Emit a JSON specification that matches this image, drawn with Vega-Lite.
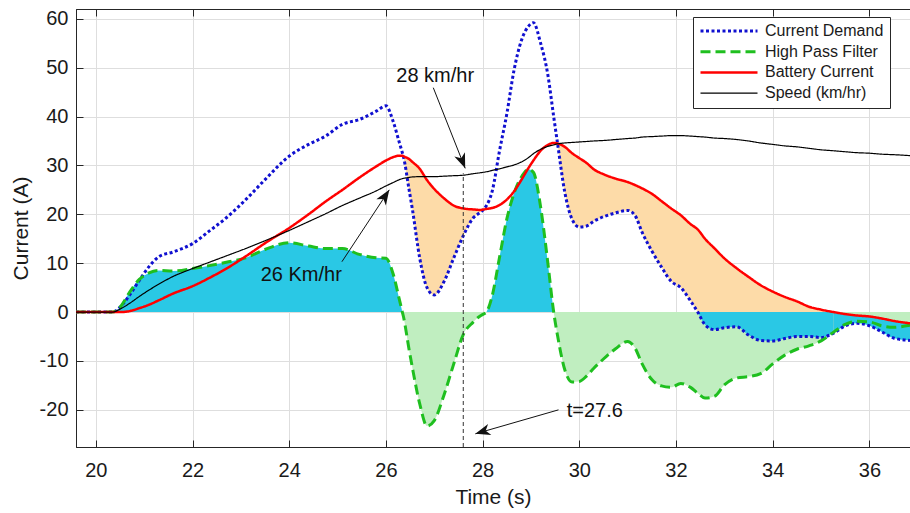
{
  "$schema": "https://vega.github.io/schema/vega-lite/v6.json",
  "width": 834,
  "height": 438,
  "autosize": {"type": "none"},
  "padding": {"left": 76, "top": 9, "right": 0, "bottom": 66},
  "background": "white",
  "config": {
    "font": "Liberation Sans",
    "view": {"stroke": "#262626", "strokeWidth": 1},
    "axis": {
      "domainColor": "#262626",
      "tickColor": "#262626",
      "labelColor": "#1a1a1a",
      "titleColor": "#1a1a1a",
      "labelFont": "Liberation Sans",
      "titleFont": "Liberation Sans",
      "titleFontWeight": "normal",
      "gridColor": "#DEDEDE"
    },
    "legend": {"labelFont": "Liberation Sans"}
  },
  "datasets": {
    "main": [
      {"t": 19.59, "demand": 0, "hpf": 0, "battery": 0, "speed": 0},
      {"t": 20.0, "demand": 0, "hpf": 0, "battery": 0, "speed": 0},
      {"t": 20.35, "demand": 0, "hpf": 0, "battery": 0, "speed": 0},
      {"t": 20.5, "demand": 1.0, "hpf": 1.0, "battery": 0, "speed": 0.6},
      {"t": 20.7, "demand": 3.5, "hpf": 4.1, "battery": 0.2, "speed": 1.8},
      {"t": 20.9, "demand": 6.5, "hpf": 6.7, "battery": 0.8, "speed": 3.2},
      {"t": 21.1, "demand": 9.3, "hpf": 8.0, "battery": 1.5, "speed": 4.5},
      {"t": 21.3, "demand": 11.3, "hpf": 8.5, "battery": 2.4, "speed": 5.7},
      {"t": 21.6, "demand": 12.3, "hpf": 8.4, "battery": 3.8, "speed": 7.3},
      {"t": 22.0, "demand": 14.0, "hpf": 8.9, "battery": 5.3, "speed": 8.9},
      {"t": 22.35, "demand": 16.6, "hpf": 9.5, "battery": 7.0, "speed": 10.2},
      {"t": 22.7, "demand": 19.3, "hpf": 10.2, "battery": 8.9, "speed": 11.5},
      {"t": 23.1, "demand": 23.0, "hpf": 11.1, "battery": 11.4, "speed": 13.0},
      {"t": 23.5, "demand": 27.1, "hpf": 12.8, "battery": 14.1, "speed": 14.6},
      {"t": 24.0, "demand": 31.9, "hpf": 14.2, "battery": 17.2, "speed": 16.7},
      {"t": 24.4, "demand": 34.3, "hpf": 13.5, "battery": 20.0, "speed": 18.5},
      {"t": 24.75, "demand": 36.0, "hpf": 13.0, "battery": 22.6, "speed": 20.1},
      {"t": 25.1, "demand": 38.4, "hpf": 13.0, "battery": 25.0, "speed": 21.8},
      {"t": 25.45, "demand": 39.4, "hpf": 11.8, "battery": 27.5, "speed": 23.3},
      {"t": 25.8, "demand": 41.1, "hpf": 11.1, "battery": 29.8, "speed": 24.8},
      {"t": 26.0, "demand": 42.2, "hpf": 11.0, "battery": 31.0, "speed": 25.8},
      {"t": 26.15, "demand": 39.0, "hpf": 7.8, "battery": 31.7, "speed": 26.5},
      {"t": 26.28, "demand": 34.6, "hpf": 2.5, "battery": 32.0, "speed": 27.1},
      {"t": 26.34, "demand": 32.6, "hpf": 0, "battery": 32.0, "speed": 27.3},
      {"t": 26.36, "demand": 31.9, "hpf": -0.8, "battery": 31.9, "speed": 27.35},
      {"t": 26.48, "demand": 25.0, "hpf": -7.7, "battery": 31.3, "speed": 27.55},
      {"t": 26.55, "demand": 20.9, "hpf": -11.5, "battery": 30.7, "speed": 27.65},
      {"t": 26.7, "demand": 11.0, "hpf": -18.8, "battery": 29.3, "speed": 27.7},
      {"t": 26.85, "demand": 5.0, "hpf": -23.3, "battery": 27.0, "speed": 27.7},
      {"t": 27.0, "demand": 3.5, "hpf": -22.2, "battery": 25.2, "speed": 27.7},
      {"t": 27.2, "demand": 6.2, "hpf": -17.0, "battery": 23.3, "speed": 27.8},
      {"t": 27.4, "demand": 11.0, "hpf": -10.7, "battery": 21.8, "speed": 27.9},
      {"t": 27.6, "demand": 15.6, "hpf": -4.6, "battery": 21.2, "speed": 28.0},
      {"t": 27.8, "demand": 19.2, "hpf": -2.1, "battery": 21.0, "speed": 28.3},
      {"t": 27.95, "demand": 20.4, "hpf": -0.8, "battery": 20.9, "speed": 28.5},
      {"t": 28.02, "demand": 21.0, "hpf": -0.4, "battery": 21.0, "speed": 28.6},
      {"t": 28.08, "demand": 21.8, "hpf": 0, "battery": 21.1, "speed": 28.7},
      {"t": 28.2, "demand": 24.8, "hpf": 3.4, "battery": 21.3, "speed": 29.0},
      {"t": 28.35, "demand": 33.0, "hpf": 11.2, "battery": 21.9, "speed": 29.3},
      {"t": 28.5, "demand": 40.5, "hpf": 19.0, "battery": 23.0, "speed": 29.7},
      {"t": 28.65, "demand": 49.5, "hpf": 24.3, "battery": 24.7, "speed": 30.1},
      {"t": 28.8, "demand": 55.5, "hpf": 27.6, "battery": 27.0, "speed": 30.7},
      {"t": 28.95, "demand": 58.5, "hpf": 29.2, "battery": 29.5, "speed": 31.6},
      {"t": 29.05, "demand": 59.2, "hpf": 28.6, "battery": 31.0, "speed": 32.4},
      {"t": 29.2, "demand": 55.0, "hpf": 21.5, "battery": 33.0, "speed": 33.3},
      {"t": 29.35, "demand": 48.5, "hpf": 10.0, "battery": 34.2, "speed": 33.9},
      {"t": 29.47, "demand": 40.0, "hpf": 0, "battery": 34.6, "speed": 34.2},
      {"t": 29.55, "demand": 34.5, "hpf": -4.8, "battery": 34.5, "speed": 34.4},
      {"t": 29.7, "demand": 24.5, "hpf": -11.8, "battery": 33.8, "speed": 34.6},
      {"t": 29.85, "demand": 19.0, "hpf": -14.3, "battery": 32.5, "speed": 34.7},
      {"t": 30.0, "demand": 17.4, "hpf": -14.2, "battery": 31.5, "speed": 34.8},
      {"t": 30.15, "demand": 17.6, "hpf": -13.1, "battery": 30.5, "speed": 34.9},
      {"t": 30.3, "demand": 18.6, "hpf": -11.5, "battery": 29.2, "speed": 35.0},
      {"t": 30.5, "demand": 19.5, "hpf": -9.6, "battery": 28.2, "speed": 35.1},
      {"t": 30.75, "demand": 20.3, "hpf": -7.5, "battery": 27.3, "speed": 35.3},
      {"t": 31.0, "demand": 20.8, "hpf": -6.0, "battery": 26.6, "speed": 35.5},
      {"t": 31.15, "demand": 19.8, "hpf": -7.3, "battery": 26.0, "speed": 35.6},
      {"t": 31.3, "demand": 16.3, "hpf": -10.6, "battery": 25.3, "speed": 35.8},
      {"t": 31.5, "demand": 12.5, "hpf": -13.8, "battery": 24.2, "speed": 35.9},
      {"t": 31.7, "demand": 9.2, "hpf": -15.1, "battery": 22.7, "speed": 36.0},
      {"t": 31.9, "demand": 6.3, "hpf": -15.4, "battery": 21.2, "speed": 36.1},
      {"t": 32.1, "demand": 5.0, "hpf": -14.6, "battery": 19.8, "speed": 36.1},
      {"t": 32.3, "demand": 2.3, "hpf": -15.4, "battery": 18.0, "speed": 36.0},
      {"t": 32.45, "demand": 0, "hpf": -16.6, "battery": 16.9, "speed": 35.9},
      {"t": 32.6, "demand": -2.6, "hpf": -17.6, "battery": 15.0, "speed": 35.8},
      {"t": 32.8, "demand": -3.6, "hpf": -17.2, "battery": 13.0, "speed": 35.6},
      {"t": 33.0, "demand": -3.2, "hpf": -14.9, "battery": 11.0, "speed": 35.5},
      {"t": 33.25, "demand": -3.0, "hpf": -13.5, "battery": 9.0, "speed": 35.3},
      {"t": 33.5, "demand": -4.7, "hpf": -13.2, "battery": 7.2, "speed": 35.0},
      {"t": 33.75, "demand": -5.8, "hpf": -12.6, "battery": 5.5, "speed": 34.6},
      {"t": 34.0, "demand": -5.9, "hpf": -10.6, "battery": 4.2, "speed": 34.3},
      {"t": 34.25, "demand": -5.4, "hpf": -8.8, "battery": 3.1, "speed": 34.0},
      {"t": 34.5, "demand": -5.0, "hpf": -7.6, "battery": 2.2, "speed": 33.8},
      {"t": 34.75, "demand": -5.0, "hpf": -6.9, "battery": 1.1, "speed": 33.5},
      {"t": 35.0, "demand": -5.2, "hpf": -5.9, "battery": 0.5, "speed": 33.2},
      {"t": 35.26, "demand": -4.3, "hpf": -4.1, "battery": 0, "speed": 33.0},
      {"t": 35.5, "demand": -2.8, "hpf": -2.5, "battery": -0.4, "speed": 32.8},
      {"t": 35.75, "demand": -2.3, "hpf": -1.9, "battery": -0.7, "speed": 32.6},
      {"t": 36.0, "demand": -2.8, "hpf": -2.0, "battery": -0.9, "speed": 32.5},
      {"t": 36.25, "demand": -4.0, "hpf": -2.8, "battery": -1.3, "speed": 32.3},
      {"t": 36.5, "demand": -5.3, "hpf": -3.1, "battery": -1.8, "speed": 32.2},
      {"t": 36.84, "demand": -5.8, "hpf": -2.7, "battery": -2.3, "speed": 32.0}
    ],
    "arrows": [
      {"label": "a28", "t": 26.98, "y": 45.9, "t2": 27.64, "y2": 29.4},
      {"label": "a26", "t": 25.09, "y": 10.3, "t2": 26.07, "y2": 25.0},
      {"label": "a276", "t": 29.57, "y": -20.0, "t2": 27.85, "y2": -24.9}
    ],
    "notes": [
      {"label": "28 km/hr", "t": 27.02, "y": 48.3},
      {"label": "26 Km/hr", "t": 24.25, "y": 7.6},
      {"label": "t=27.6", "t": 30.32, "y": -20.2}
    ],
    "marker": [
      {"t": 27.6, "y": -27.6, "y2": 28.4}
    ]
  },
  "resolve": {"axis": {"x": "independent"}},
  "layer": [
    {
      "data": {"name": "main"},
      "transform": [{"filter": {"field": "t", "range": [26.34, 28.08]}}],
      "mark": {"type": "area", "interpolate": "monotone", "color": "#C0EEC0"},
      "encoding": {
        "x": {
          "field": "t", "type": "quantitative",
          "scale": {"domain": [19.59, 36.84], "nice": false, "zero": false},
          "axis": {
            "orient": "bottom",
            "values": [20, 22, 24, 26, 28, 30, 32, 34, 36],
            "grid": true, "tickSize": -7, "labelFontSize": 20, "labelPadding": 20,
            "labelFlush": false,
            "title": "Time (s)", "titleFontSize": 21, "titlePadding": 6
          }
        },
        "y": {
          "field": "hpf", "type": "quantitative",
          "scale": {"domain": [-27.6, 62], "nice": false, "zero": false},
          "axis": {
            "values": [-20, -10, 0, 10, 20, 30, 40, 50, 60],
            "grid": true, "tickSize": -7, "labelFontSize": 20, "labelPadding": 15,
            "labelExpr": "'' + datum.value",
            "title": "Current (A)", "titleFontSize": 21, "titlePadding": 8
          }
        },
        "y2": {"datum": 0}
      }
    },
    {
      "data": {"name": "main"},
      "transform": [{"filter": {"field": "t", "range": [29.47, 36.84]}}],
      "mark": {"type": "area", "interpolate": "monotone", "color": "#C0EEC0"},
      "encoding": {
        "x": {
          "field": "t", "type": "quantitative",
          "scale": {"domain": [19.59, 36.84], "nice": false, "zero": false},
          "axis": {
            "orient": "top",
            "values": [20, 22, 24, 26, 28, 30, 32, 34, 36],
            "grid": false, "labels": false, "tickSize": -7, "title": null
          }
        },
        "y": {"field": "hpf", "type": "quantitative"},
        "y2": {"datum": 0}
      }
    },
    {
      "data": {"name": "main"},
      "transform": [{"filter": {"field": "t", "range": [20.35, 26.34]}}],
      "mark": {"type": "area", "interpolate": "monotone", "color": "#2AC8E5"},
      "encoding": {
        "x": {"field": "t", "type": "quantitative", "axis": null},
        "y": {"field": "hpf", "type": "quantitative"},
        "y2": {"datum": 0}
      }
    },
    {
      "data": {"name": "main"},
      "transform": [{"filter": {"field": "t", "range": [28.08, 29.47]}}],
      "mark": {"type": "area", "interpolate": "monotone", "color": "#2AC8E5"},
      "encoding": {
        "x": {"field": "t", "type": "quantitative", "axis": null},
        "y": {"field": "hpf", "type": "quantitative"},
        "y2": {"datum": 0}
      }
    },
    {
      "data": {"name": "main"},
      "transform": [{"filter": {"field": "t", "range": [26.36, 28.02]}}],
      "mark": {"type": "area", "interpolate": "monotone", "color": "#FDDBA8"},
      "encoding": {
        "x": {"field": "t", "type": "quantitative", "axis": null},
        "y": {"field": "demand", "type": "quantitative"},
        "y2": {"field": "battery"}
      }
    },
    {
      "data": {"name": "main"},
      "transform": [{"filter": {"field": "t", "range": [29.55, 35.26]}}],
      "mark": {"type": "area", "interpolate": "monotone", "color": "#FDDBA8"},
      "encoding": {
        "x": {"field": "t", "type": "quantitative", "axis": null},
        "y": {"field": "demand", "type": "quantitative"},
        "y2": {"field": "battery"}
      }
    },
    {
      "data": {"name": "main"},
      "transform": [{"filter": {"field": "t", "range": [32.45, 35.26]}}],
      "mark": {"type": "area", "interpolate": "monotone", "color": "#2AC8E5"},
      "encoding": {
        "x": {"field": "t", "type": "quantitative", "axis": null},
        "y": {"field": "demand", "type": "quantitative"},
        "y2": {"datum": 0}
      }
    },
    {
      "data": {"name": "main"},
      "transform": [{"filter": {"field": "t", "range": [35.26, 36.84]}}],
      "mark": {"type": "area", "interpolate": "monotone", "color": "#2AC8E5"},
      "encoding": {
        "x": {"field": "t", "type": "quantitative", "axis": null},
        "y": {"field": "demand", "type": "quantitative"},
        "y2": {"field": "battery"}
      }
    },
    {
      "data": {"name": "main"},
      "transform": [{"fold": ["demand", "hpf", "battery", "speed"], "as": ["series", "value"]}],
      "mark": {"type": "line", "interpolate": "monotone"},
      "encoding": {
        "x": {"field": "t", "type": "quantitative", "axis": null},
        "y": {"field": "value", "type": "quantitative"},
        "color": {
          "field": "series", "type": "nominal",
          "scale": {"domain": ["demand", "hpf", "battery", "speed"], "range": ["#1010D0", "#1FBF1F", "#FF0000", "#000000"]},
          "legend": {
            "orient": "none", "legendX": 617, "legendY": 8, "title": null,
            "labelFontSize": 16, "labelColor": "#1a1a1a", "symbolSize": 3249, "clipHeight": 16,
            "rowPadding": 4.7, "padding": 6, "strokeColor": "#262626", "fillColor": "white",
            "labelOffset": 6,
            "labelExpr": "datum.label == 'demand' ? 'Current Demand' : datum.label == 'hpf' ? 'High Pass Filter' : datum.label == 'battery' ? 'Battery Current' : 'Speed (km/hr)'"
          }
        },
        "strokeDash": {
          "field": "series", "type": "nominal",
          "scale": {"domain": ["demand", "hpf", "battery", "speed"], "range": [[3, 2.5], [10, 5], [1, 0], [1, 0]]}
        },
        "strokeWidth": {
          "field": "series", "type": "nominal",
          "scale": {"type": "ordinal", "domain": ["demand", "hpf", "battery", "speed"], "range": [3, 3, 2.5, 1.2]}
        }
      }
    },
    {
      "data": {"name": "marker"},
      "mark": {"type": "rule", "color": "#333333", "strokeWidth": 1, "strokeDash": [4, 3]},
      "encoding": {
        "x": {"field": "t", "type": "quantitative", "axis": null},
        "y": {"field": "y", "type": "quantitative"},
        "y2": {"field": "y2"}
      }
    },
    {
      "data": {"name": "arrows"},
      "mark": {"type": "rule", "color": "#111111", "strokeWidth": 1},
      "encoding": {
        "x": {"field": "t", "type": "quantitative", "axis": null},
        "y": {"field": "y", "type": "quantitative"},
        "x2": {"field": "t2"},
        "y2": {"field": "y2"}
      }
    },
    {
      "data": {"name": "arrows"},
      "mark": {"type": "point", "shape": "M0,0L0.38,1L0,0.72L-0.38,1Z", "size": 900, "filled": true, "color": "#111111", "opacity": 1},
      "encoding": {
        "x": {"field": "t2", "type": "quantitative", "axis": null},
        "y": {"field": "y2", "type": "quantitative"},
        "angle": {
          "field": "label", "type": "nominal",
          "scale": {"type": "ordinal", "domain": ["a28", "a26", "a276"], "range": [158.2, 33.1, 253.2]},
          "legend": null
        }
      }
    },
    {
      "data": {"name": "notes"},
      "mark": {"type": "text", "fontSize": 20, "color": "#111111", "align": "center", "baseline": "middle"},
      "encoding": {
        "x": {"field": "t", "type": "quantitative", "axis": null},
        "y": {"field": "y", "type": "quantitative"},
        "text": {"field": "label"}
      }
    }
  ]
}
